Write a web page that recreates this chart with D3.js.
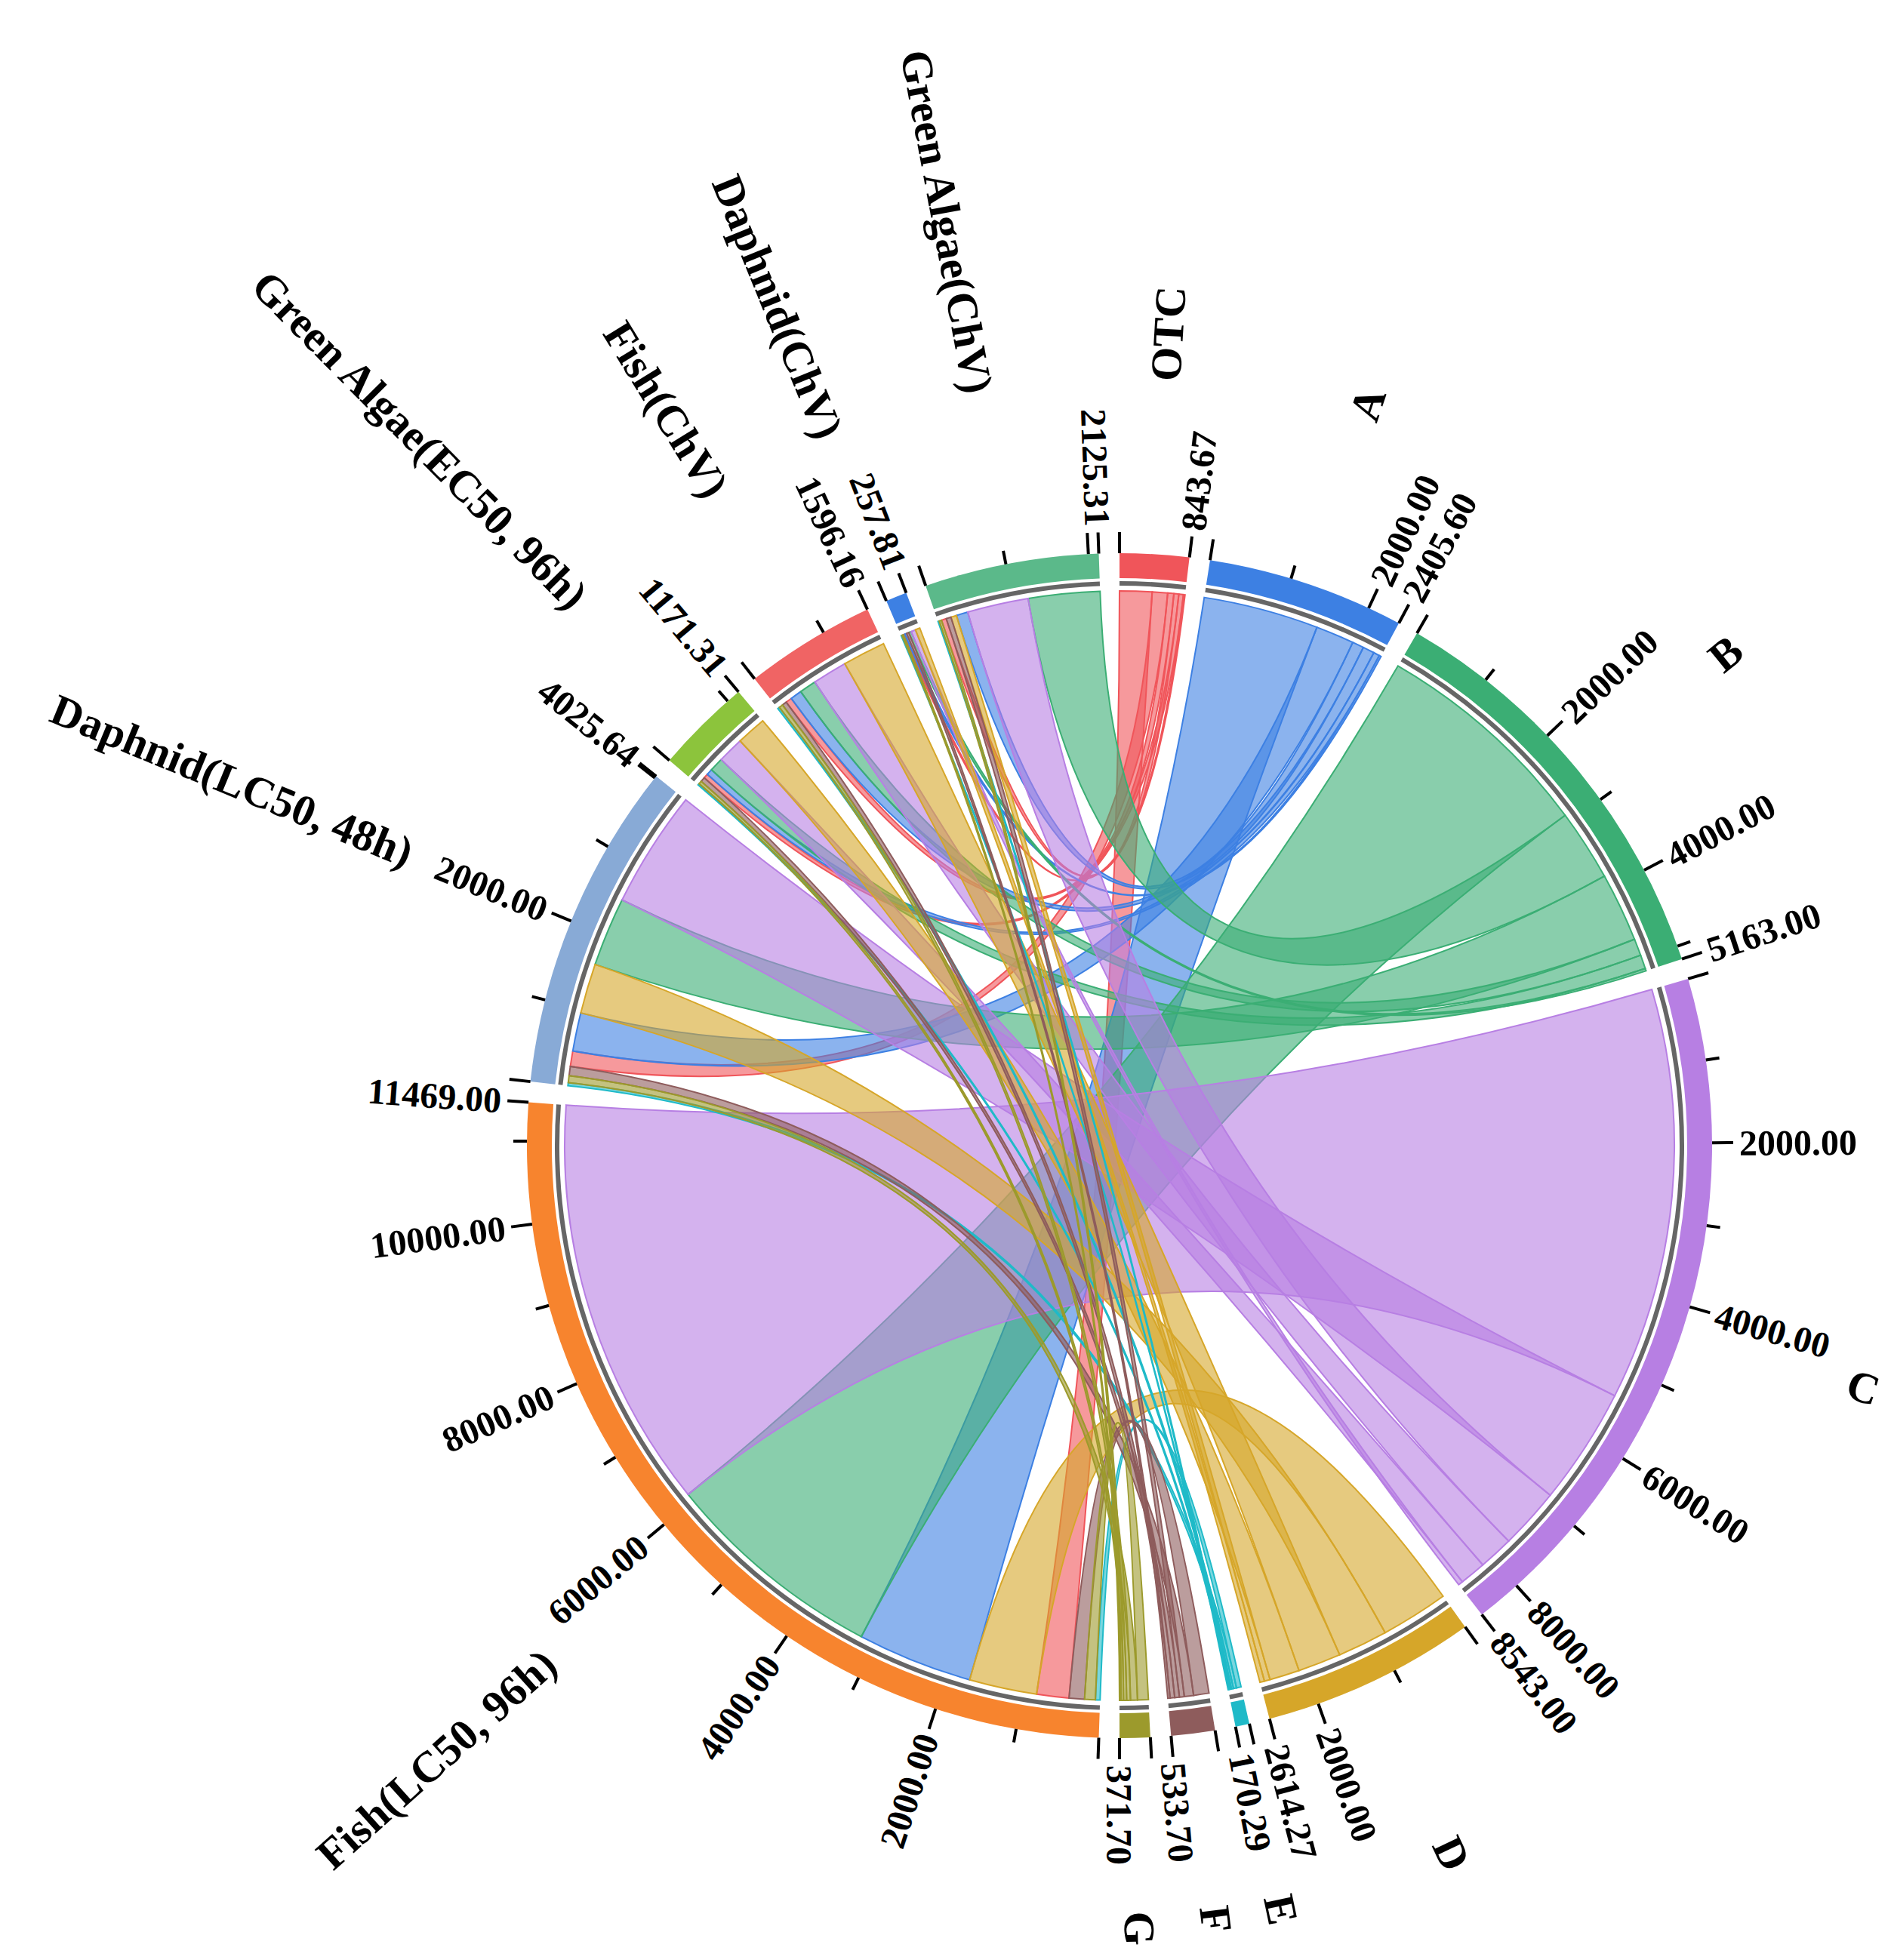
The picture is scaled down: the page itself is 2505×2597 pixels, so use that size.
<!DOCTYPE html>
<html><head><meta charset="utf-8">
<script src="https://cdn.jsdelivr.net/npm/d3@7"></script>
<style>body{margin:0;background:#fff}</style>
</head><body>
<svg id="chart"></svg>
<script>
// sources (right half) and targets (left half), clockwise from top
var sources = ["OTC", "A", "B", "C", "D", "E", "F", "G"];
var targets = ["Fish(LC50, 96h)", "Daphnid(LC50, 48h)", "Green Algae(EC50, 96h)", "Fish(ChV)", "Daphnid(ChV)", "Green Algae(ChV)"];

// flows source -> target (columns follow targets)
var flowOTC = [420, 200, 60, 80, 20, 63.67];
var flowA = [1500, 500, 80, 150, 25, 150.6];
var flowB = [2900, 900, 180, 220, 33, 930];
var flowC = [5369, 1525.64, 341.31, 451.16, 59.81, 796.08];
var flowD = [880, 650, 390, 560, 60, 74.27];
var flowE = [60, 40, 20, 25, 10, 15.29];
var flowF = [200, 120, 60, 60, 30, 63.70];
var flowG = [140, 90, 40, 50, 20, 31.70];

var colors = ["#f0555a", "#3d80e3", "#3bae74", "#b77fe3", "#d6a629", "#1fbac8", "#8e5c5c", "#9c9a2c",
              "#f7842e", "#88aad6", "#8cc43c", "#f06464", "#3d80e3", "#5bb98a"];

var flows = [flowOTC, flowA, flowB, flowC, flowD, flowE, flowF, flowG];
var names = sources.concat(targets);
var n = names.length;
var matrix = d3.range(n).map(function() { return d3.range(n).map(function() { return 0; }); });
flows.forEach(function(row, i) {
    row.forEach(function(v, j) { matrix[i][sources.length + j] = v; });
});

var W = 2505, H = 2597;
var cx = 1483, cy = 1518;
var rOuter = 785, rInner = 752, rChord = 735;
var font = "'Liberation Serif', 'DejaVu Serif', serif";

var svg = d3.select("#chart").attr("width", W).attr("height", H);
var g = svg.append("g").attr("transform", "translate(" + cx + "," + cy + ")");

var chords = d3.chordDirected().padAngle(0.035).sortSubgroups(d3.descending)(matrix);

// ribbons
g.append("g").selectAll("path")
  .data(chords)
  .join("path")
  .attr("d", d3.ribbon().radius(rChord))
  .attr("fill", function(d) { return colors[d.source.index]; })
  .attr("fill-opacity", 0.6)
  .attr("stroke", function(d) { return colors[d.source.index]; })
  .attr("stroke-width", 2);

// group arcs
var grp = g.append("g").selectAll("g").data(chords.groups).join("g");
grp.append("path")
  .attr("d", d3.arc().innerRadius(rInner).outerRadius(rOuter))
  .attr("fill", function(d) { return colors[d.index]; });
grp.append("path")
  .attr("d", d3.arc().innerRadius(rInner - 10).outerRadius(rInner - 4))
  .attr("fill", "#666");

function place(angle, r) {
    return [Math.sin(angle) * r, -Math.cos(angle) * r];
}

// ticks and labels
grp.each(function(d) {
    var sel = d3.select(this);
    var scale = d3.scaleLinear().domain([0, d.value]).range([d.startAngle, d.endAngle]);
    var ticks = d3.range(0, d.value, 1000);
    ticks.push(d.value);
    ticks.forEach(function(t) {
        var a = scale(t);
        var major = (t % 2000 === 0) || t === d.value;
        var p1 = place(a, rOuter), p2 = place(a, rOuter + (major ? 28 : 18));
        sel.append("line")
          .attr("x1", p1[0]).attr("y1", p1[1]).attr("x2", p2[0]).attr("y2", p2[1])
          .attr("stroke", "#000").attr("stroke-width", 4);
        if ((t % 2000 === 0 && t > 0 && d.value - t > 300) || t === d.value) {
            var deg = a * 180 / Math.PI;
            var flip = a > Math.PI;
            sel.append("text")
              .attr("transform", "rotate(" + (deg - 90) + ") translate(" + (rOuter + 36) + ",0)" + (flip ? " rotate(180)" : ""))
              .attr("dy", "0.35em")
              .attr("text-anchor", flip ? "end" : "start")
              .attr("font-family", font).attr("font-weight", "bold").attr("font-size", 48)
              .text(d3.format(".2f")(t));
        }
    });
    var mid = (d.startAngle + d.endAngle) / 2;
    var deg = mid * 180 / Math.PI;
    var flip = mid > Math.PI;
    sel.append("text")
      .attr("transform", "rotate(" + (deg - 90) + ") translate(1015,0)" + (flip ? " rotate(180)" : ""))
      .attr("dy", "0.35em")
      .attr("text-anchor", flip ? "end" : "start")
      .attr("font-family", font).attr("font-weight", "bold").attr("font-size", 58)
      .text(names[d.index]);
});
</script>
</body></html>
